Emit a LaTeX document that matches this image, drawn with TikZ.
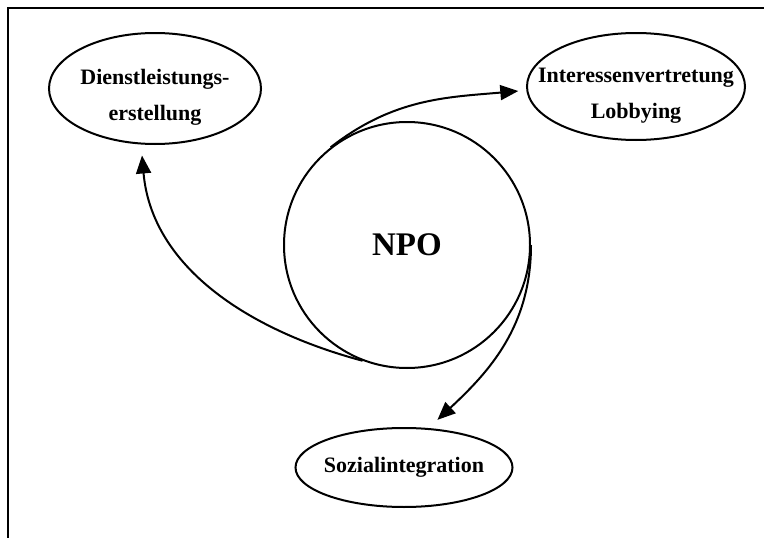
\documentclass[tikz,border=0pt]{standalone}
\usepackage{fontspec}
\setmainfont{Liberation Serif}
\usetikzlibrary{shapes.geometric,arrows.meta}
\begin{document}
\begin{tikzpicture}
		[x=1pt,y=1pt,
		myellipse/.style={ellipse,draw,line width=2pt,inner sep=0pt},
		mytext/.style={align=center,inner sep=0pt,font=\fontsize{22}{36}\selectfont\bfseries},
		myarrow/.style={line width=2pt,-{Triangle[length=18pt,width=15pt]}}]
		\useasboundingbox (0,0) rectangle (764,-538);
		\draw[line width=1.6pt] (8,-538) -- (8,-8) -- (764,-8);
		\node[circle,draw,line width=2pt,minimum size=246pt,font=\fontsize{33}{40}\selectfont\bfseries,name=npo] at (407,-245) {NPO};
		\node[myellipse,minimum width=212pt,minimum height=111pt,name=dienst] at (155,-88.5) {};
		\node[myellipse,minimum width=218pt,minimum height=107pt,name=lobby] at (636,-86.5) {};
		\node[myellipse,minimum width=217pt,minimum height=79pt,name=sozial] at (404,-467.5) {};
		\node[mytext,name=dienst text] at ([yshift=-9pt]dienst.center) {Dienstleistungs-\\erstellung};
		\node[mytext,name=lobby text] at ([yshift=-9pt]lobby.center) {Interessenvertretung\\Lobbying};
		\node[mytext,name=sozial text] at (sozial.center) {Sozialintegration};
		% Leistungen der NPO
		\draw[myarrow,shorten >=11pt] (npo.-111) to[out=165,in=-85] (dienst.-104);
		\draw[myarrow,shorten >=8pt] (npo.128) to[out=38,in=185] (lobby.182);
		\draw[myarrow,shorten >=12pt] (npo.east) to[out=-90,in=43] (sozial.58);
	\end{tikzpicture}
\end{document}
